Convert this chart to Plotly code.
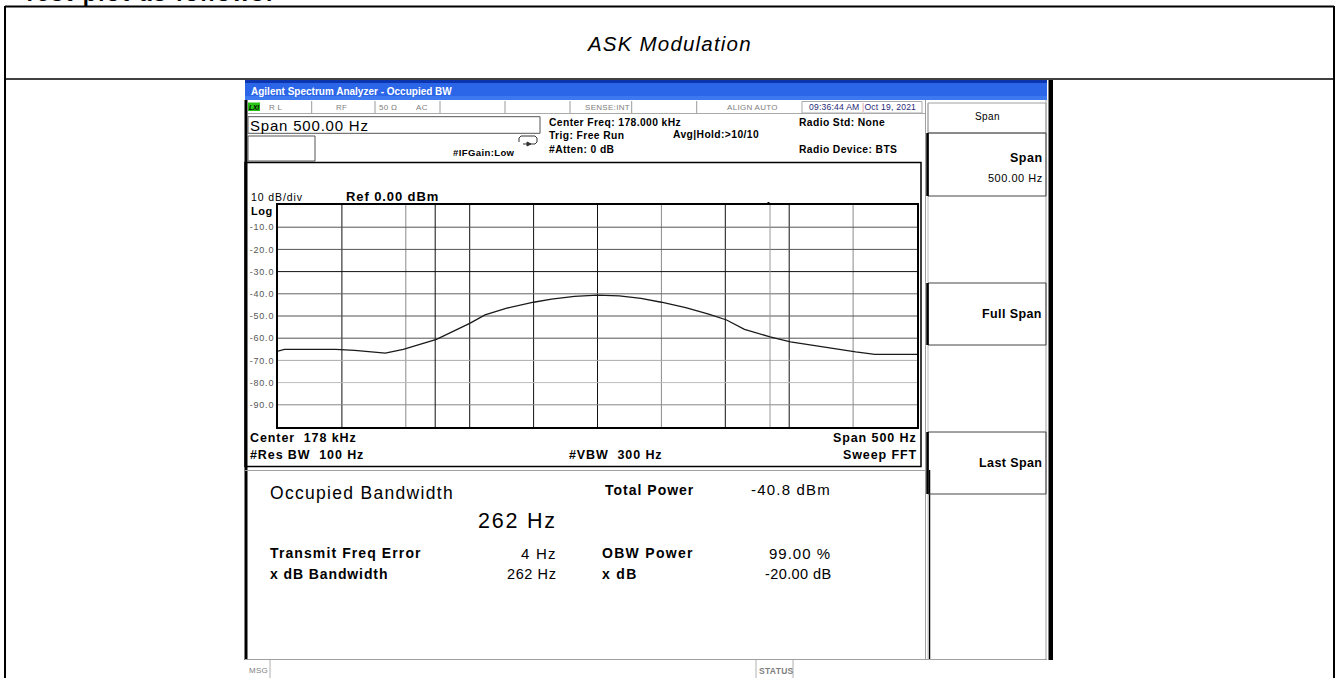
import plotly.graph_objects as go

# ---------------- data ----------------
center_hz = 178000
span_hz = 500
ref_dbm = 0.0
db_per_div = 10
trace_offset_hz = [-250, -245, -205, -190, -166, -152, -126, -100, -88, -80, -71, -50, -36, -18,
                   0, 17, 34, 50, 69, 87, 101, 115, 135, 151, 175, 202, 217, 250]
trace_level_dbm = [-65.8, -65.0, -65.0, -65.5, -66.7, -65.0, -60.5, -53.3, -49.5, -48.0, -46.5,
                   -43.8, -42.4, -41.2, -40.6, -40.9, -42.1, -43.8, -46.2, -49.2, -51.8, -56.0,
                   -59.4, -61.7, -63.9, -66.2, -67.3, -67.3]
obw_hz = 262
freq_error_hz = 4
y_tick_vals = [-10, -20, -30, -40, -50, -60, -70, -80, -90]
y_tick_text = ["-10.0", "-20.0", "-30.0", "-40.0", "-50.0", "-60.0", "-70.0", "-80.0", "-90.0"]

# ---------------- helpers ----------------
W, H = 1339, 678
FONT = "Liberation Sans, Arial, sans-serif"
shapes = []
annos = []


def px(x):
    return x / W


def py(y):
    return 1 - y / H


def rect(x0, y0, x1, y1, lc=None, lw=1, fill=None):
    shapes.append(dict(type="rect", xref="paper", yref="paper",
                       x0=px(x0), x1=px(x1), y0=py(y1), y1=py(y0),
                       line=dict(color=lc or "rgba(0,0,0,0)", width=lw if lc else 0),
                       fillcolor=fill or "rgba(0,0,0,0)", layer="above"))


def line(x0, y0, x1, y1, c="#000", w=1, dash="solid"):
    shapes.append(dict(type="line", xref="paper", yref="paper",
                       x0=px(x0), x1=px(x1), y0=py(y0), y1=py(y1),
                       line=dict(color=c, width=w, dash=dash), layer="above"))


def path(pts, c="#000", w=1, fill=None, closed=False):
    d = "M " + " L ".join(f"{px(x):.6f},{py(y):.6f}" for x, y in pts)
    if closed:
        d += " Z"
    shapes.append(dict(type="path", xref="paper", yref="paper", path=d,
                       line=dict(color=c, width=w), fillcolor=fill or "rgba(0,0,0,0)",
                       layer="above"))


def text(s, x, y, size, bold=False, color="#000", anchor="left", ls=0, italic=False,
         yanchor="middle"):
    body = s
    if bold:
        body = f"<b>{body}</b>"
    if italic:
        body = f"<i>{body}</i>"
    if ls:
        body = f'<span style="letter-spacing:{ls}px">{body}</span>'
    annos.append(dict(x=px(x), y=py(y), xref="paper", yref="paper", text=body,
                      showarrow=False, xanchor=anchor, yanchor=yanchor, borderpad=0,
                      font=dict(size=size, color=color, family=FONT)))


# ---------------- document table ----------------
text("Test plot as follows:", 22, 7, 22, bold=True, ls=2, yanchor="bottom")
line(5, 6.5, 1334, 6.5, "#000", 2)
line(5, 6, 5, 678, "#000", 2)
line(1334, 6, 1334, 678, "#000", 2)
line(5, 79, 1334, 79, "#000", 1.6)
text("ASK Modulation", 669, 43, 20.5, italic=True, anchor="center", ls=1.2)

# ---------------- analyzer window chrome ----------------
rect(245, 80, 1047, 100, fill="#2b66e8")
rect(245, 80, 1047, 83, fill="#0c35b0")
rect(245, 96, 1047, 100, fill="#3c78f0")
text("Agilent Spectrum Analyzer - Occupied BW", 250, 91.5, 10, bold=True, color="#ffffff")
rect(244.5, 100, 247.5, 660, fill="#000")
rect(1048.5, 80, 1053, 660, fill="#000")

# status row
rect(248, 102.5, 260, 111, fill="#28c414")
text("LXI", 254, 107, 6.5, bold=True, italic=True, anchor="center")
for sx in [311.7, 375, 440, 505, 570, 631.7, 696.7]:
    line(sx, 101, sx, 113, "#9a9a9a", 1)
line(248, 113.5, 925, 113.5, "#aaaaaa", 1)
rect(802, 101.5, 922, 113, "#aaaaaa", 1)
for s, cx in [("R L", 276), ("RF", 341), ("50 Ω", 388), ("AC", 422),
              ("SENSE:INT", 607), ("ALIGN AUTO", 752)]:
    text(s, cx, 107.3, 8, color="#808080", anchor="center", ls=0.3)
text('09:36:44 AM <span style="color:#d08a8a">|</span>Oct 19, 2021', 862, 107.3, 8.6,
     color="#2a2a78", anchor="center", ls=0.2)

# header area
rect(248, 116.7, 540, 133.3, "#555555", 1)
text("Span 500.00 Hz", 249, 125.2, 15, ls=0.8)
rect(248, 136, 315, 161, "#555555", 1)
# return icon
path([(521, 136), (535, 136), (537, 138), (537, 142), (535, 144), (523, 144)], "#333", 1)
path([(519, 142), (519, 138), (521, 136)], "#333", 1)
path([(527, 142), (531, 144), (527, 146)], "#333", 1, fill="#333", closed=True)
text("#IFGain:Low", 452, 152, 9.5, bold=True, ls=0.4)
text("Center Freq: 178.000 kHz", 548, 123, 10.3, bold=True, ls=0.4)
text("Trig: Free Run", 548, 136, 10.3, bold=True, ls=0.4)
text("#Atten: 0 dB", 548, 149.5, 10.3, bold=True, ls=0.4)
text("Avg|Hold:&gt;10/10", 672, 135, 10.3, bold=True, ls=0.4)
text("Radio Std: None", 798, 123, 10.3, bold=True, ls=0.4)
text("Radio Device: BTS", 798, 149.5, 10.3, bold=True, ls=0.4)

# graph panel
rect(245, 162.5, 921, 466.5, "#000", 1.5)
text("10 dB/div", 250, 197, 10.5, ls=0.9)
text("Ref 0.00 dBm", 345, 196, 13, bold=True, ls=0.9)
text("Log", 250, 210.5, 11, bold=True, ls=0.5)
rect(767.5, 202, 769.5, 205, fill="#000")
text("Center  178 kHz", 249, 437.5, 12.5, bold=True, ls=0.9)
text("#Res BW  100 Hz", 249, 455.5, 12.5, bold=True, ls=0.9)
text("#VBW  300 Hz", 568, 455.5, 12.5, bold=True, ls=0.9)
text("Span 500 Hz", 918, 437.5, 12.5, bold=True, anchor="right", ls=0.9)
text("Sweep FFT", 918, 455.5, 12.5, bold=True, anchor="right", ls=0.9)

# lower result panel
line(245, 470.5, 925, 470.5, "#a0a0a0", 1.2)
line(925.5, 470, 925.5, 659, "#a0a0a0", 1)
line(929.5, 470, 929.5, 659, "#000", 1.5)
text("Occupied Bandwidth", 269, 493, 17.5, ls=1.3)
text("Total Power", 604, 489.5, 14, bold=True, ls=1.0)
text("-40.8 dBm", 832, 489.5, 15, anchor="right", ls=1.2)
text("262 Hz", 558, 521, 21.5, anchor="right", ls=1.8)
text("Transmit Freq Error", 269, 553, 14, bold=True, ls=1.1)
text("4 Hz", 558, 553, 15, anchor="right", ls=1.2)
text("OBW Power", 601, 553, 14, bold=True, ls=1.3)
text("99.00 %", 832, 553, 15, anchor="right", ls=1.0)
text("x dB Bandwidth", 269, 573.5, 14, bold=True, ls=0.9)
text("262 Hz", 558, 573.5, 14.5, anchor="right", ls=0.6)
text("x dB", 601, 573.5, 14, bold=True, ls=1.3)
text("-20.00 dB", 832, 573.5, 14.5, anchor="right", ls=0.4)

# bottom status line
line(245, 659.5, 1047, 659.5, "#a0a0a0", 1)
for sx in [270, 756, 793]:
    line(sx, 660, sx, 678, "#b0b0b0", 1)
text("MSG", 248, 670.5, 8, color="#808080", ls=0.3)
text("STATUS", 758, 670.5, 8.5, bold=True, color="#808080", ls=0.3)

# right softkey panel
line(925.5, 100, 925.5, 470, "#a0a0a0", 1)
line(928, 103, 928, 659, "#c0c0c0", 1)
line(1046, 100, 1046, 660, "#a0a0a0", 1)
rect(928, 103, 1046, 133, "#a0a0a0", 1)
text("Span", 987, 117, 10, anchor="center", ls=0.4)
for (y0, y1) in [(133, 196), (283, 345), (432, 494)]:
    rect(928, y0, 1046, y1, "#444444", 1)
    line(927.5, y0, 927.5, y1, "#000", 2.5)
text("Span", 1044, 158, 12.5, bold=True, anchor="right", ls=0.5)
text("500.00 Hz", 1044, 178, 11, anchor="right", ls=0.5)
text("Full Span", 1043, 314, 12.5, bold=True, anchor="right", ls=0.4)
text("Last Span", 1043, 463, 12.5, bold=True, anchor="right", ls=0.4)

# ---------------- graticule (data coordinates) ----------------
f0 = center_hz - span_hz / 2
f1 = center_hz + span_hz / 2
v_colors = ["#111", "#8a8a8a", "#111", "#111", "#111", "#8a8a8a", "#111", "#111", "#8a8a8a"]
for k in range(1, 10):
    fx = f0 + k * span_hz / 10
    shapes.append(dict(type="line", xref="x", yref="y", x0=fx, x1=fx, y0=-100, y1=0,
                       line=dict(color=v_colors[k - 1], width=1), layer="below"))
h_colors = ["#555", "#555", "#111", "#666", "#555", "#555", "#aaa", "#bbb", "#888"]
for i, yv in enumerate(y_tick_vals):
    shapes.append(dict(type="line", xref="x", yref="y", x0=f0, x1=f1, y0=yv, y1=yv,
                       line=dict(color=h_colors[i], width=1), layer="below"))
obw_center = center_hz + freq_error_hz
for fx, c in [(obw_center - obw_hz / 2, "#111"), (obw_center + obw_hz / 2, "#999")]:
    shapes.append(dict(type="line", xref="x", yref="y", x0=fx, x1=fx, y0=-100, y1=0,
                       line=dict(color=c, width=1), layer="below"))

trace_freq = [center_hz + o for o in trace_offset_hz]

fig = go.Figure()
fig.add_trace(go.Scatter(x=trace_freq, y=trace_level_dbm, mode="lines",
                         line=dict(color="#1a1a1a", width=1.3), hoverinfo="skip"))

fig.update_layout(
    width=W, height=H, margin=dict(l=0, r=0, t=0, b=0),
    paper_bgcolor="#ffffff", plot_bgcolor="#ffffff", showlegend=False,
    shapes=shapes, annotations=annos,
    xaxis=dict(domain=[px(278), px(917)], range=[f0, f1], showgrid=False, zeroline=False,
               showticklabels=False, ticks="", showline=True, mirror=True,
               linecolor="#000", linewidth=2),
    yaxis=dict(domain=[py(427), py(205)], range=[ref_dbm - 10 * db_per_div, ref_dbm],
               showgrid=False, zeroline=False, ticks="", tickvals=y_tick_vals,
               ticktext=[f'<span style="letter-spacing:0.8px">{t}</span>' for t in y_tick_text],
               tickfont=dict(size=9, color="#555555", family=FONT),
               showline=True, mirror=True, linecolor="#000", linewidth=2),
)

fig.write_html("out.html", config={"displayModeBar": False},
               post_script="document.body.style.margin='0px';")
